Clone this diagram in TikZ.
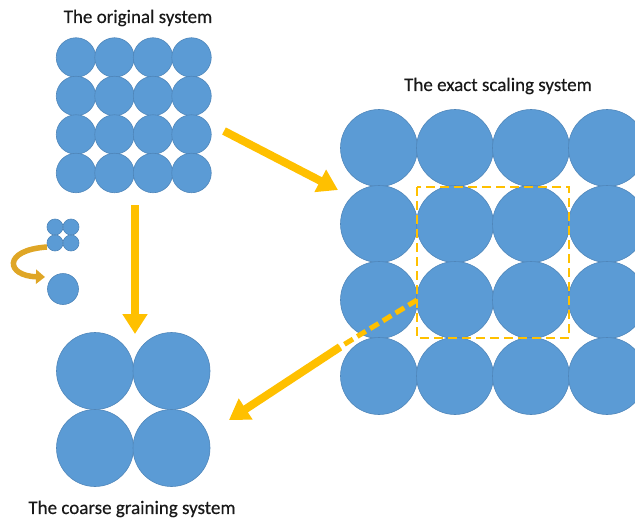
\documentclass[tikz,border=0pt]{standalone}
\usepackage{fontspec}
\setmainfont{Carlito}
\usetikzlibrary{arrows.meta}
\definecolor{ballblue}{HTML}{5B9BD5}
\definecolor{balledge}{HTML}{4F86BA}
\definecolor{gold}{HTML}{FFC000}
\definecolor{darkgold}{HTML}{DFA626}
\begin{document}
\begin{tikzpicture}[x=1pt,y=-1pt,
  ball/.style={circle,fill=ballblue,draw=balledge,line width=0.6pt,inner sep=0pt},
  bigarrow/.style={draw=gold,line width=8pt,-{Triangle[width=24pt,length=20pt]}},
  title/.style={font=\fontsize{19}{22}\selectfont\addfontfeature{FakeBold=0.4},text=black!90}]
\useasboundingbox (0,0) rectangle (635,519);
\clip (0,0) rectangle (635,519);
% original system
\foreach \i in {0,...,3}{
  \foreach \j in {0,...,3}{
    \node[ball,minimum size=39.5pt] (o-\i-\j) at ({76+38.5*\i},{57.5+38.5*\j}) {};
  }
}
\node[title] (torig) at (138,18) {The original system};
% exact scaling system
\foreach \i in {0,...,3}{
  \foreach \j in {0,...,3}{
    \node[ball,minimum size=77pt] (e-\i-\j) at ({379+76*\i},{148+76*\j}) {};
  }
}
\node[title] (texact) at (498,86) {The exact scaling system};
% coarse graining system
\foreach \i in {0,1}{
  \foreach \j in {0,1}{
    \node[ball,minimum size=77pt] (c-\i-\j) at ({95+76.5*\i},{371+77*\j}) {};
  }
}
\node[title] (tcoarse) at (132,509) {The coarse graining system};
% small icon
\foreach \i in {0,1}{
  \foreach \j in {0,1}{
    \node[ball,minimum size=16pt] (s-\i-\j) at ({55+16*\i},{227+16*\j}) {};
  }
}
\node[ball,minimum size=31pt] (single) at (63,289) {};
% dashed box
\draw[gold,line width=2pt,dash pattern=on 9pt off 5pt] (417,187) rectangle (569,338);
% arrows
\coordinate (a1s) at (224,131);
\coordinate (a1e) at (338,190);
\coordinate (a2s) at (135,205);
\coordinate (a2e) at (135,334);
\coordinate (a3d) at (417,300);
\coordinate (a3s) at (340,347);
\coordinate (a3e) at (229,420);
\draw[bigarrow] (a1s) -- (a1e);
\draw[bigarrow] (a2s) -- (a2e);
\draw[gold,line width=5pt,dash pattern=on 10pt off 5pt] (a3d) -- (a3s);
\draw[bigarrow] (a3s) -- (a3e);
% curved arrow
\coordinate (cs) at (47,247);
\coordinate (ce) at (45,277);
\draw[darkgold,line width=5.5pt,-{Triangle[width=14pt,length=9pt]}] (cs) .. controls (2,250) and (6,276) .. (ce);
\end{tikzpicture}
\end{document}
